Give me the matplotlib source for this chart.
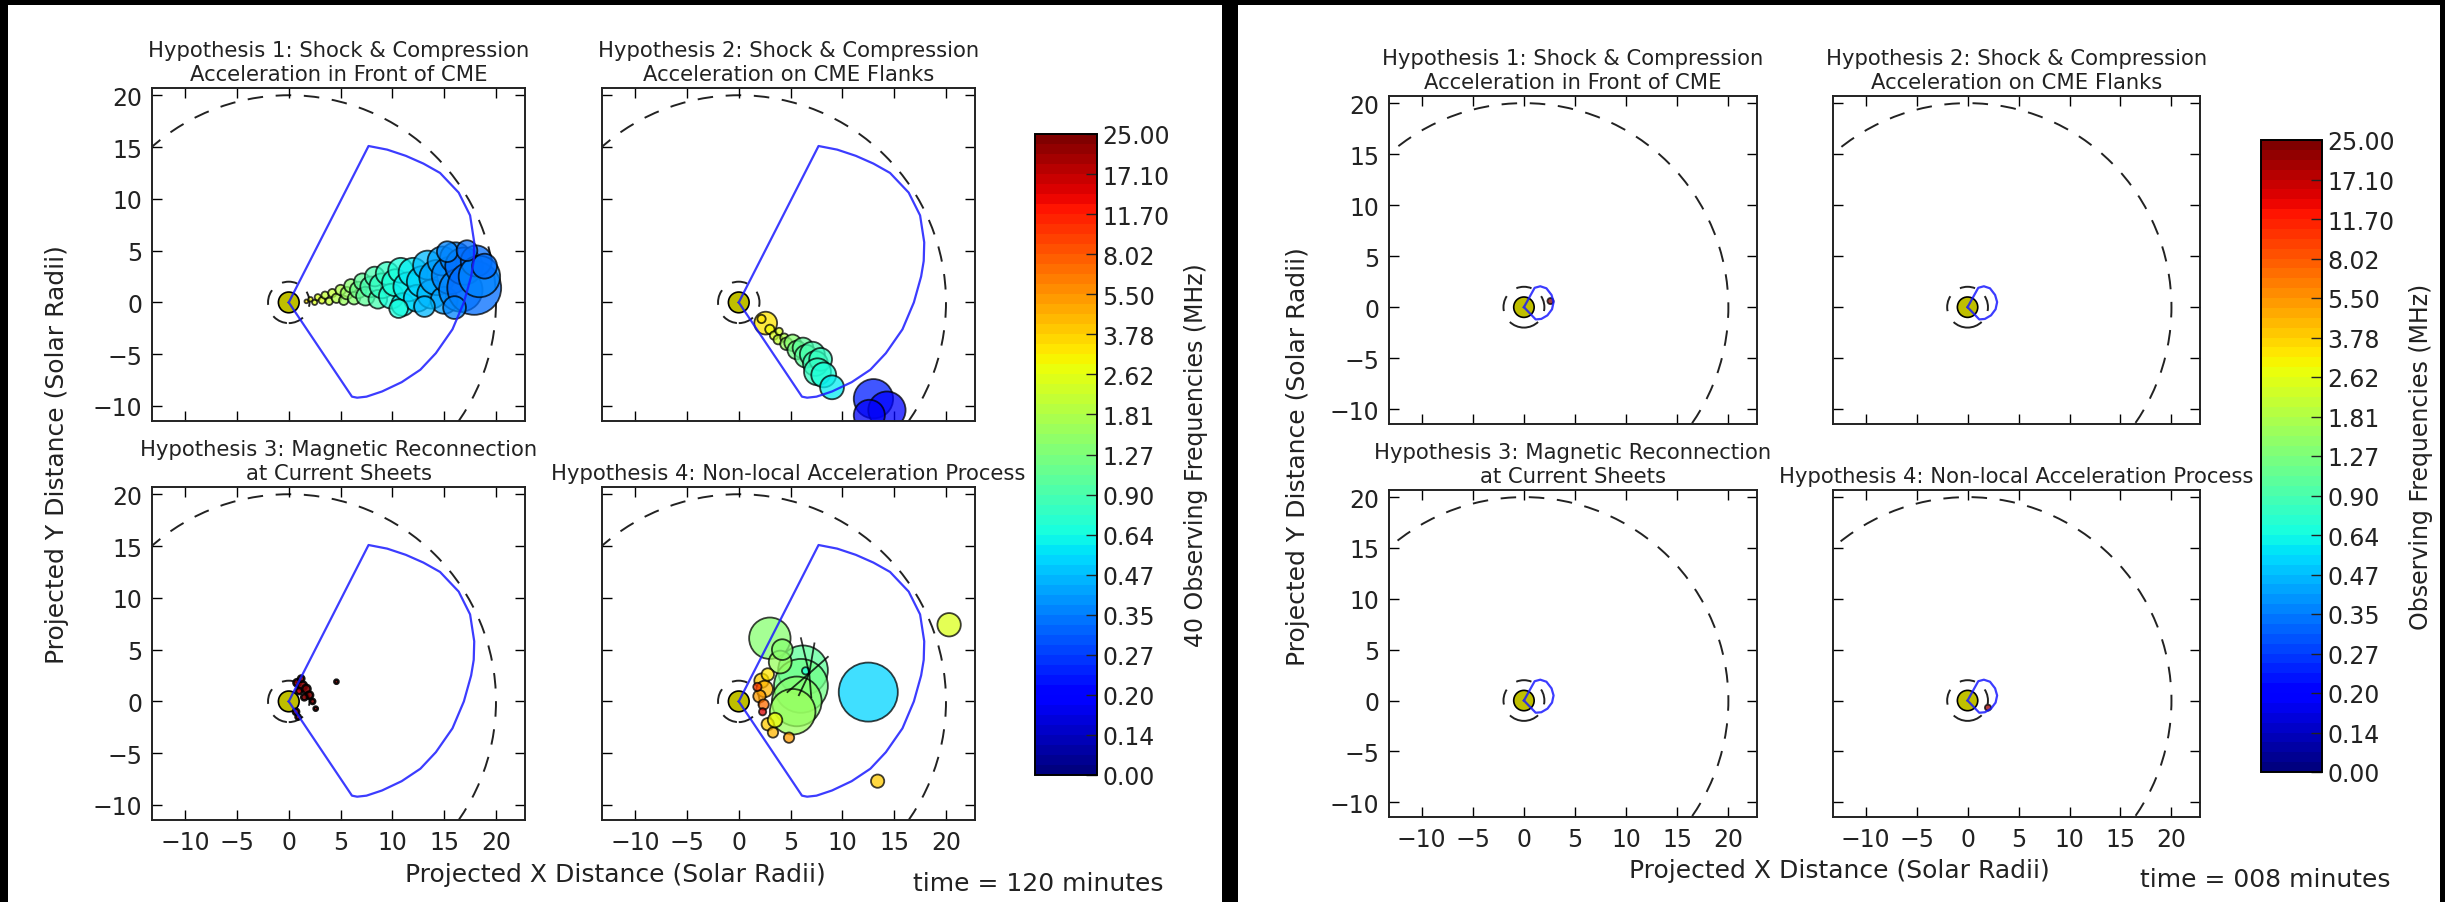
import numpy as np
import matplotlib
matplotlib.use('Agg')
import matplotlib.pyplot as plt
from matplotlib.patches import Circle, Rectangle
from matplotlib.colors import Normalize
from matplotlib.cm import ScalarMappable

# ---------------- data ----------------
TITLES = [
    "Hypothesis 1: Shock & Compression\nAcceleration in Front of CME",
    "Hypothesis 2: Shock & Compression\nAcceleration on CME Flanks",
    "Hypothesis 3: Magnetic Reconnection\nat Current Sheets",
    "Hypothesis 4: Non-local Acceleration Process",
]
CBAR_LABELS = ["0.00", "0.14", "0.20", "0.27", "0.35", "0.47", "0.64", "0.90", "1.27",
               "1.81", "2.62", "3.78", "5.50", "8.02", "11.70", "17.10", "25.00"]
N_FREQ = 40
X_TICKS = [-10, -5, 0, 5, 10, 15, 20]
Y_TICKS = [-10, -5, 0, 5, 10, 15, 20]

# CME outline (solar radii)
CME120_X = [0, 7.7, 9.5, 11.3, 13.0, 14.6, 16.4, 17.5, 17.9, 17.85, 17.6, 16.9, 15.8,
            14.2, 12.7, 10.9, 9.0, 7.5, 6.6, 6.1, 0]
CME120_Y = [0, 15.1, 14.75, 14.15, 13.4, 12.5, 10.6, 8.4, 5.8, 4.0, 2.5, 0.0, -2.6,
            -4.9, -6.5, -7.7, -8.6, -9.1, -9.2, -9.1, 0]
CME008_X = [0, 1.05, 1.6, 2.2, 2.7, 2.9, 2.75, 2.3, 1.7, 1.15, 0]
CME008_Y = [0, 1.9, 2.05, 1.85, 1.2, 0.5, -0.2, -0.8, -1.15, -1.2, 0]

# emission sources: x, y, radius, frequency index (0..39)
H1_X = [1.7, 2.1, 2.5, 2.8, 3.2, 3.5, 3.9, 4.2, 4.6, 5.0, 5.3, 5.6, 6.0, 6.3, 6.7, 7.1, 7.4,
        7.9, 8.3, 8.6, 9.0, 9.5, 9.9, 10.3, 10.8, 11.0, 11.5, 12.0, 12.4, 12.9, 13.4, 13.8,
        14.3, 14.8, 15.0, 15.6, 16.1, 16.6, 16.9, 17.9, 18.1, 18.4, 18.9,
        10.6, 13.1, 15.3, 16.0, 17.2]
H1_Y = [0.1, 0.3, 0.0, 0.5, 0.2, 0.7, 0.1, 0.9, 0.4, 1.2, 0.2, 0.9, 1.6, 0.4, 1.2, 2.0, 0.6,
        1.5, 2.5, 0.3, 1.6, 2.8, 0.6, 1.9, 3.1, -0.2, 1.5, 2.9, 0.4, 2.0, 3.6, 0.8, 2.4, 4.0,
        0.2, 2.6, 4.3, 1.2, 3.5, 1.4, 4.0, 2.5, 3.5,
        -0.6, -0.4, 4.9, -0.5, 5.0]
H1_R = [0.18, 0.22, 0.25, 0.30, 0.32, 0.35, 0.35, 0.40, 0.45, 0.50, 0.45, 0.60, 0.65, 0.60,
        0.80, 0.80, 0.90, 1.00, 0.95, 0.90, 1.20, 1.10, 1.20, 1.30, 1.20, 1.10, 1.40, 1.40,
        1.30, 1.50, 1.40, 1.40, 1.70, 1.40, 1.30, 1.80, 1.50, 2.10, 1.80, 2.60, 1.50, 2.00, 1.20,
        0.9, 1.0, 1.0, 1.1, 1.0]
H1_F = [26, 25, 24, 24, 24, 23, 23, 23, 22, 22, 21, 21, 20, 20, 19, 18, 18, 17, 17, 17, 16,
        16, 15, 15, 15, 14, 14, 14, 13, 13, 12, 12, 11, 11, 11, 10, 10, 10, 9, 9, 9, 10, 9,
        15, 12, 10, 10, 9]

H2_X = [2.6, 2.2, 3.0, 3.4, 3.9, 3.8, 4.4, 4.6, 5.2, 5.6, 6.2, 6.5, 7.1, 7.4, 7.9, 7.6, 8.2,
        9.0, 13.0, 14.3, 12.6]
H2_Y = [-2.0, -1.6, -2.6, -3.2, -2.8, -3.6, -3.4, -4.0, -3.9, -4.6, -4.4, -5.2, -5.0, -5.9,
        -5.5, -6.7, -7.0, -8.2, -9.3, -10.4, -10.9]
H2_R = [1.1, 0.4, 0.45, 0.4, 0.35, 0.45, 0.4, 0.6, 0.8, 0.9, 1.0, 1.1, 1.2, 1.2, 1.1, 1.3,
        1.2, 1.15, 1.9, 1.8, 1.5]
H2_F = [26, 26, 25, 24, 24, 23, 22, 21, 20, 19, 18, 18, 17, 17, 16, 16, 15, 14, 6, 5, 4]

H3_X = [0.8, 1.3, 1.0, 1.7, 2.0, 1.5, 2.3, 0.7, 0.9, 2.6, 4.6, 1.2]
H3_Y = [1.8, 1.5, 1.0, 1.2, 0.6, 0.4, 0.0, -1.0, -1.5, -0.7, 1.9, 2.2]
H3_R = [0.35, 0.45, 0.30, 0.40, 0.35, 0.30, 0.25, 0.30, 0.25, 0.20, 0.20, 0.30]
H3_F = [39, 39, 37, 39, 39, 39, 39, 39, 39, 39, 39, 39]

H4_X = [3.0, 6.2, 6.0, 5.6, 5.2, 4.0, 4.2, 12.5, 20.3, 13.4, 6.45, 4.85, 2.2, 2.5, 2.0, 2.8,
        2.4, 2.3, 2.8, 3.3, 3.5, 1.8]
H4_Y = [6.1, 3.0, 1.5, 0.0, -1.0, 3.8, 5.0, 0.9, 7.4, -7.7, 2.95, -3.5, 2.0, 1.2, 0.5, 2.6,
        -0.3, -1.0, -2.2, -3.0, -1.8, 1.4]
H4_R = [2.0, 2.4, 2.6, 2.4, 2.2, 1.1, 1.0, 2.85, 1.13, 0.64, 0.35, 0.5, 0.7, 0.8, 0.6, 0.6,
        0.5, 0.35, 0.6, 0.5, 0.7, 0.4]
H4_F = [20, 18, 19, 20, 21, 21, 20, 13, 24, 27, 15, 29, 27, 28, 29, 26, 31, 36, 27, 28, 25, 33]
H4_SEG_X0 = [6.8, 6.8, 6.8, 6.8, 6.8, 6.8]
H4_SEG_Y0 = [2.7, 2.7, 2.7, 2.7, 2.7, 2.7]
H4_SEG_X1 = [7.3, 8.6, 6.0, 4.7, 5.8, 7.0]
H4_SEG_Y1 = [5.6, 4.3, 6.1, 0.9, 0.6, 0.4]

E1_X, E1_Y, E1_R, E1_F = [2.6], [0.6], [0.3], [39]
E4_X, E4_Y, E4_R, E4_F = [2.0], [-0.7], [0.3], [38]

PANELS = [
    dict(time="time = 120 minutes", cbar_label="40 Observing Frequencies (MHz)",
         cme=(CME120_X, CME120_Y),
         src=[(H1_X, H1_Y, H1_R, H1_F), (H2_X, H2_Y, H2_R, H2_F),
              (H3_X, H3_Y, H3_R, H3_F), (H4_X, H4_Y, H4_R, H4_F)],
         seg=[None, None, None, (H4_SEG_X0, H4_SEG_Y0, H4_SEG_X1, H4_SEG_Y1)]),
    dict(time="time = 008 minutes", cbar_label="Observing Frequencies (MHz)",
         cme=(CME008_X, CME008_Y),
         src=[(E1_X, E1_Y, E1_R, E1_F), ([], [], [], []), ([], [], [], []),
              (E4_X, E4_Y, E4_R, E4_F)],
         seg=[None, None, None, None]),
]

# ---------------- layout (pixels) ----------------
W, H = 2445, 903
LAYOUT = [
    dict(bg=(8, 6, 1222, 903),
         axes=[(152, 89, 525, 422), (602, 89, 975, 422), (152, 488, 525, 821), (602, 488, 975, 821)],
         cbar=(1035, 135, 1097, 776), ylab=(57, 455), xlab=(615, 875), time=(913, 884)),
    dict(bg=(1238, 6, 2440, 903),
         axes=[(1389, 97, 1757, 425), (1833, 97, 2200, 425), (1389, 491, 1757, 818), (1833, 491, 2200, 818)],
         cbar=(2261, 141, 2322, 773), ylab=(1298, 457), xlab=(1839, 871), time=(2140, 880)),
]
XLIM = (-13.2, 22.8)
YLIM = (-11.45, 20.7)

plt.rcParams['font.family'] = 'DejaVu Sans'
fig = plt.figure(figsize=(W / 100, H / 100), dpi=100, facecolor='black')


def box(x0, y0, x1, y1):
    return [x0 / W, 1 - y1 / H, (x1 - x0) / W, (y1 - y0) / H]


src_cmap = plt.get_cmap('jet')
bar_cmap = plt.get_cmap('jet', 64)
SUN_COLOR = (0.75, 0.75, 0.0)
DASH = (0, (8, 6.5))
TXT = '#222222'


def fmt(v, p):
    return f"{int(round(v))}".replace('-', '\u2212')


for panel, lay in zip(PANELS, LAYOUT):
    x0, y0, x1, y1 = lay['bg']
    fig.add_artist(Rectangle((x0 / W, 1 - y1 / H), (x1 - x0) / W, (y1 - y0) / H,
                             transform=fig.transFigure, facecolor='white',
                             edgecolor='none', zorder=-10))
    for k, abox in enumerate(lay['axes']):
        ax = fig.add_axes(box(*abox))
        ax.set_xlim(*XLIM)
        ax.set_ylim(*YLIM)
        ax.set_xticks(X_TICKS)
        ax.set_yticks(Y_TICKS)
        ax.tick_params(direction='in', top=True, right=True, length=7.5, width=1.0,
                       labelsize=17, pad=7, labelcolor=TXT)
        ax.xaxis.set_major_formatter(plt.FuncFormatter(fmt))
        ax.yaxis.set_major_formatter(plt.FuncFormatter(fmt))
        for sp in ax.spines.values():
            sp.set_linewidth(1.4)
            sp.set_color(TXT)
        if k < 2:
            ax.tick_params(labelbottom=False)
        if k % 2 == 1:
            ax.tick_params(labelleft=False)
        ax.set_title(TITLES[k], fontsize=15.2, pad=6, color=TXT, linespacing=1.22)

        xs, ys, rs, fs = panel['src'][k]
        dark = (k == 2)
        for xx, yy, rr, ff in zip(xs, ys, rs, fs):
            ax.add_patch(Circle((xx, yy), rr, facecolor=src_cmap(ff / (N_FREQ - 1)),
                                edgecolor='black', alpha=0.9 if dark else 0.75,
                                lw=1.8 if dark else 1.3, zorder=2))
        seg = panel['seg'][k]
        if seg is not None:
            for a, b, c, d in zip(*seg):
                ax.plot([a, c], [b, d], color='black', lw=1.3, alpha=0.8, zorder=3)
        ax.add_patch(Circle((0, 0), 1.0, facecolor=SUN_COLOR, edgecolor='black', lw=1.2, zorder=1))
        ax.add_patch(Circle((0, 0), 2.0, fill=False, edgecolor=TXT, lw=1.4, ls=DASH, zorder=1))
        ax.add_patch(Circle((0, 0), 20.0, fill=False, edgecolor=TXT, lw=1.4, ls=DASH, zorder=1))
        cx, cy = panel['cme']
        ax.plot(cx, cy, color='#1a1aff', lw=1.6, alpha=0.85, zorder=4)

    cax = fig.add_axes(box(*lay['cbar']))
    sm = ScalarMappable(norm=Normalize(0, N_FREQ), cmap=bar_cmap)
    cb = fig.colorbar(sm, cax=cax, ticks=np.linspace(0, N_FREQ, len(CBAR_LABELS)))
    cb.set_ticklabels(CBAR_LABELS)
    cax.tick_params(direction='in', length=8, width=1.0, labelsize=17, pad=4, color=TXT,
                    labelcolor=TXT)
    cb.outline.set_linewidth(1.4)
    cb.set_label(panel['cbar_label'], fontsize=17, labelpad=10, color=TXT)

    fig.text(lay['ylab'][0] / W, 1 - lay['ylab'][1] / H, "Projected Y Distance (Solar Radii)",
             rotation=90, ha='center', va='center', fontsize=18, color=TXT)
    fig.text(lay['xlab'][0] / W, 1 - lay['xlab'][1] / H, "Projected X Distance (Solar Radii)",
             ha='center', va='center', fontsize=18, color=TXT)
    fig.text(lay['time'][0] / W, 1 - lay['time'][1] / H, panel['time'],
             ha='left', va='center', fontsize=18, color=TXT)

fig.savefig('out.png', dpi=100, facecolor='black')
